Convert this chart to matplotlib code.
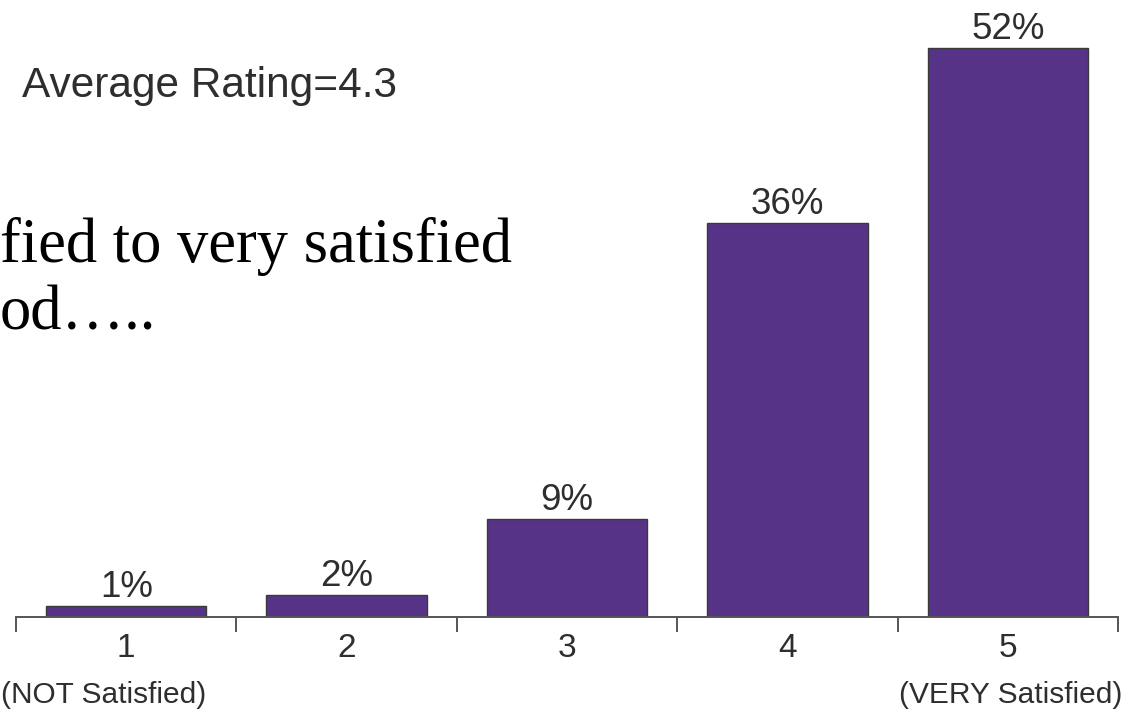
import matplotlib
matplotlib.use("Agg")
import matplotlib.pyplot as plt

ratings = ["1", "2", "3", "4", "5"]
pct = [1, 2, 9, 36, 52]
pct_labels = ["1%", "2%", "9%", "36%", "52%"]
end_labels = ["(NOT Satisfied)", "(VERY Satisfied)"]
avg_text = "Average Rating=4.3"
slide_lines = ["fied to very satisfied", "od….."]

purple = "#573387"
ink = "#2e2e2e"
plt.rcParams["font.family"] = ["Liberation Sans", "DejaVu Sans"]

fig = plt.figure(figsize=(11.28, 7.18), dpi=100)
ax = fig.add_axes([16 / 1128, 101 / 718, 1102 / 1128, 617 / 718])

x = list(range(1, len(ratings) + 1))
bars = ax.bar(x, pct, width=0.727, color=purple, edgecolor="#3a3a3a", linewidth=1.0, zorder=2)

ax.set_xlim(0.5, 5.5)
ax.set_ylim(0, 56.4)

for s in ["top", "right", "left"]:
    ax.spines[s].set_visible(False)
ax.spines["bottom"].set_color("#555555")
ax.spines["bottom"].set_linewidth(1.4)
ax.set_yticks([])

# tick marks between the bars, labels in the middle
ax.set_xticks([i + 0.5 for i in range(0, 6)])
ax.set_xticklabels([])
ax.tick_params(axis="x", which="major", direction="out", length=11, width=1.4, color="#555555")

for xi, lab in zip(x, ratings):
    ax.annotate(lab, xy=(xi, 0), xycoords=("data", "axes fraction"),
                xytext=(0, -29), textcoords="offset points",
                ha="center", va="baseline", fontsize=24, color=ink)

for b, lab in zip(bars, pct_labels):
    ax.annotate(lab, xy=(b.get_x() + b.get_width() / 2, b.get_height()),
                xytext=(0, 6.5), textcoords="offset points",
                ha="center", va="baseline", fontsize=26.5, color=ink)

fig.text(0.001, 1 - 703 / 718, end_labels[0], ha="left", va="baseline", fontsize=21.5, color=ink)
fig.text(1122 / 1128, 1 - 703 / 718, end_labels[1], ha="right", va="baseline", fontsize=21.5, color=ink)

fig.text(22 / 1128, 1 - 97 / 718, avg_text, ha="left", va="baseline", fontsize=30.5, color=ink)

fig.text(0.0, 1 - 262 / 718, slide_lines[0], ha="left", va="baseline",
         fontsize=45, color="black", family=["Liberation Serif", "DejaVu Serif"])
fig.text(0.0, 1 - 330 / 718, slide_lines[1], ha="left", va="baseline",
         fontsize=45, color="black", family=["Liberation Serif", "DejaVu Serif"])

fig.savefig("out.png", dpi=100)
